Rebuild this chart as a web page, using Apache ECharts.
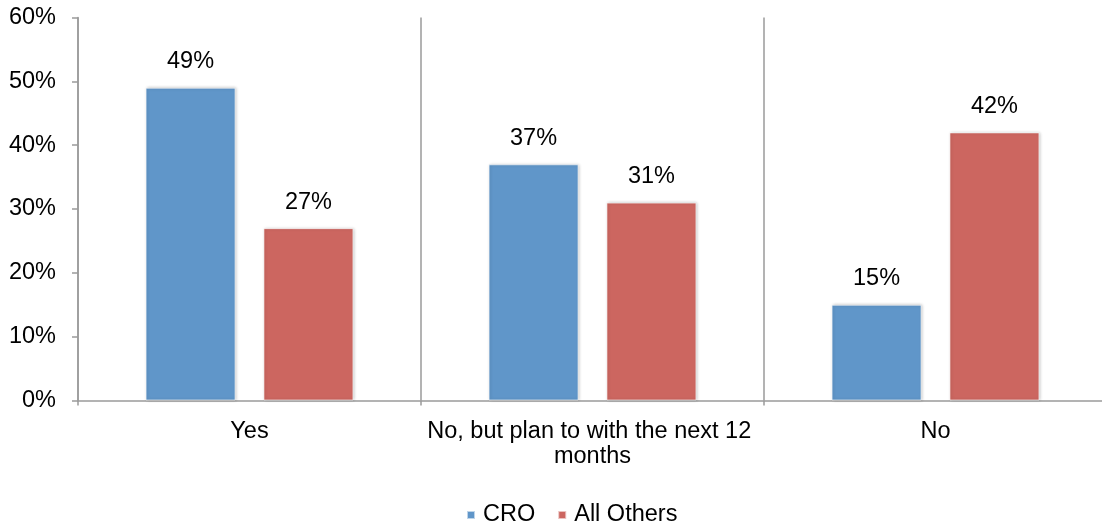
<!DOCTYPE html>
<html>
<head>
<meta charset="utf-8">
<script src="https://cdn.jsdelivr.net/npm/echarts@6/dist/echarts.min.js"></script>
<style>
  html, body { margin: 0; padding: 0; background: #fff; overflow: hidden; }
  /* the canvas is a few pixels wider than the window so the plot area's
     right edge falls just outside the visible region */
  #chart { width: 1110px; height: 527px; }
</style>
</head>
<body>
<div id="chart"></div>
<script>
const categories = ['Yes', 'No, but plan to with the next 12 months', 'No'];
const croValues = [49, 37, 15];
const othersValues = [27, 31, 42];
const seriesNames = ['CRO', 'All Others'];
const colors = ['#6096C9', '#CC6660'];

const font = 'Liberation Sans, Arial, sans-serif';
const axisGray = '#9a9a9a';
const textSize = 23.5;

function barSeries(name, data, color) {
  return {
    name: name,
    type: 'bar',
    data: data,
    barWidth: 90,
    barGap: '31%',
    itemStyle: {
      color: color,
      borderColor: 'rgba(255,255,255,0.6)',
      borderWidth: 1,
      shadowColor: 'rgba(0,0,0,0.25)',
      shadowBlur: 3,
      shadowOffsetX: 1,
      shadowOffsetY: 0
    },
    label: {
      show: true,
      position: 'top',
      distance: 14,
      formatter: '{c}%',
      color: '#000',
      fontFamily: font,
      fontSize: textSize
    }
  };
}

const chart = echarts.init(document.getElementById('chart'), null, { renderer: 'canvas' });
chart.setOption({
  animation: false,
  backgroundColor: '#fff',
  color: colors,
  grid: { left: 78, top: 17.5, right: 3, bottom: 126.5, containLabel: false },
  legend: {
    data: seriesNames,
    left: 466,
    bottom: 0,
    padding: 0,
    icon: 'rect',
    itemWidth: 8,
    itemHeight: 8,
    itemGap: 22,
    textStyle: { fontFamily: font, fontSize: textSize, color: '#000', padding: [0, 0, 0, 3] }
  },
  xAxis: {
    type: 'category',
    data: categories,
    axisLine: { lineStyle: { color: axisGray, width: 1.5 } },
    axisTick: { show: true, length: 5, lineStyle: { color: axisGray, width: 1.5 } },
    splitLine: { show: true, lineStyle: { color: axisGray, width: 1.5 } },
    axisLabel: {
      color: '#000',
      fontFamily: font,
      fontSize: textSize,
      lineHeight: 25,
      margin: 19,
      width: 338,
      overflow: 'break',
      interval: 0
    }
  },
  yAxis: {
    type: 'value',
    min: 0,
    max: 60,
    interval: 10,
    axisLine: { show: true, lineStyle: { color: axisGray, width: 1.5 } },
    axisTick: { show: true, length: 6, lineStyle: { color: axisGray, width: 1.5 } },
    splitLine: { show: false },
    axisLabel: {
      formatter: '{value}%',
      color: '#000',
      fontFamily: font,
      fontSize: textSize,
      margin: 22
    }
  },
  series: [
    barSeries(seriesNames[0], croValues, colors[0]),
    barSeries(seriesNames[1], othersValues, colors[1])
  ]
});
</script>
</body>
</html>
